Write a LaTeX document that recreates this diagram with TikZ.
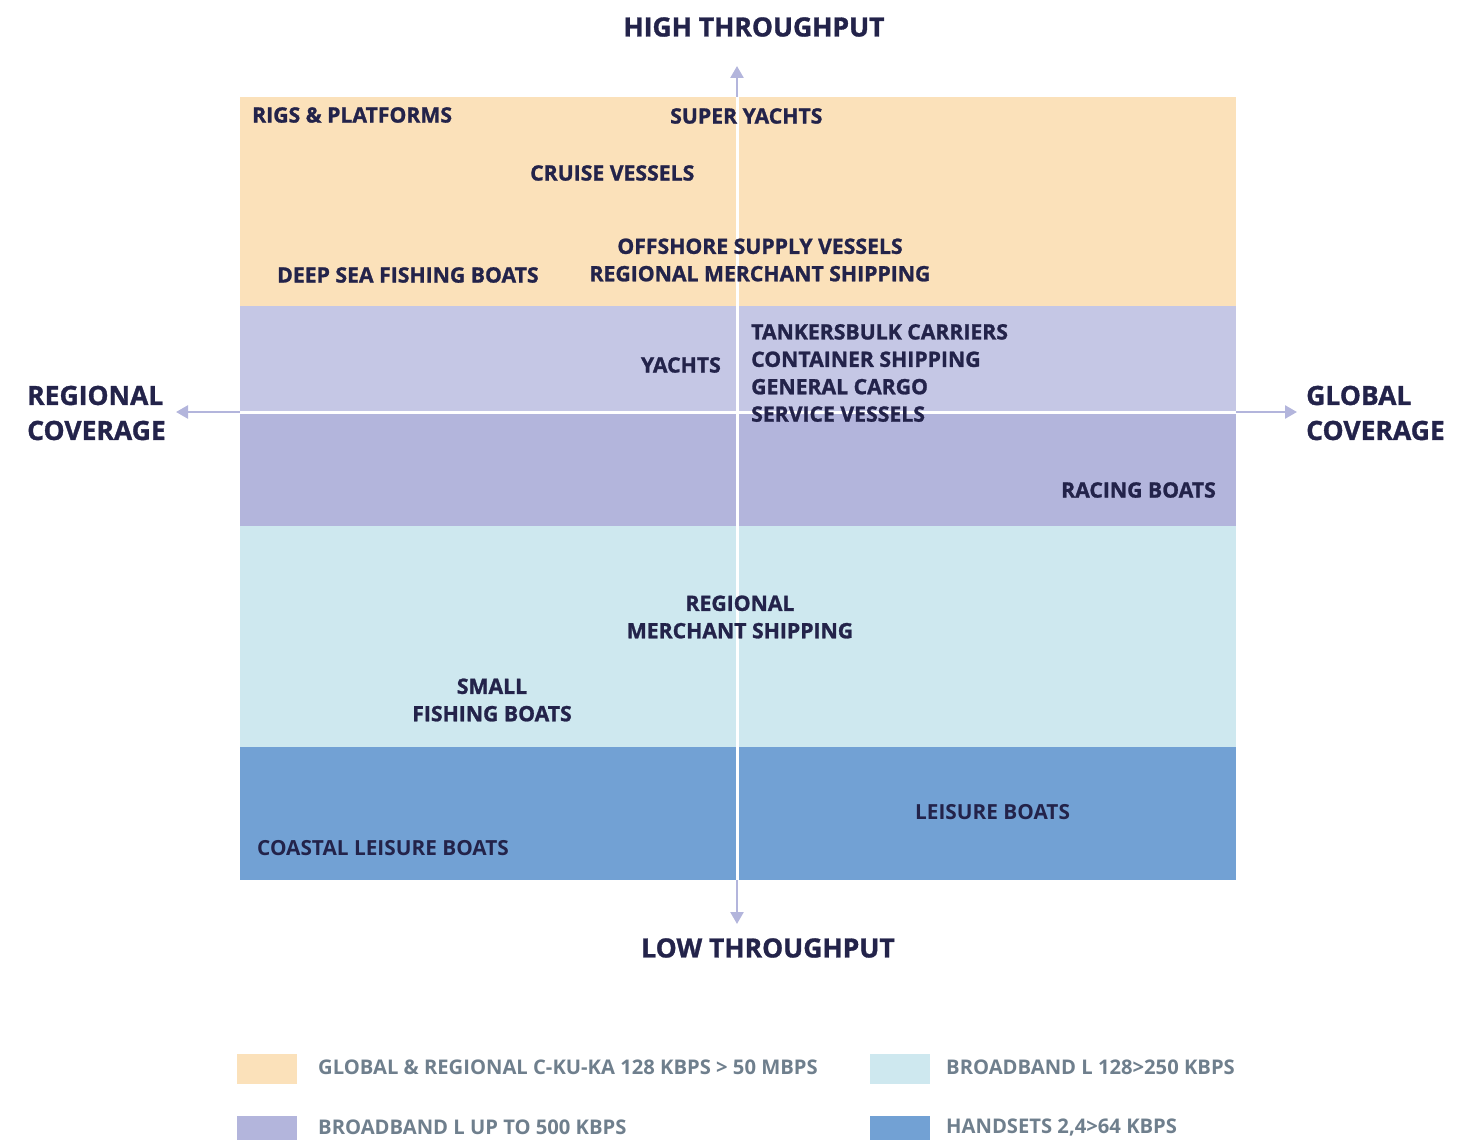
\documentclass[tikz,border=0pt]{standalone}
\usepackage{fontspec}
\setmainfont{Open Sans}[BoldFont={Open Sans Bold}, BoldFeatures={FakeBold=1.2}]
\newfontfamily\semib{Open Sans Bold}
\usetikzlibrary{arrows.meta}
\definecolor{bandA}{HTML}{FBE1BA}
\definecolor{bandB}{HTML}{C5C7E5}
\definecolor{bandC}{HTML}{B3B5DC}
\definecolor{bandD}{HTML}{CEE8EF}
\definecolor{bandE}{HTML}{72A1D4}
\definecolor{ink}{HTML}{23234A}
\definecolor{gray}{HTML}{6F7F8D}
\definecolor{axis}{HTML}{B3B5DC}
\tikzset{
  lbl/.style={font=\bfseries\fontsize{21.2}{27.4}\selectfont, text=ink, inner sep=0pt, align=left},
  lblc/.style={lbl, align=center},
  semi/.style={font=\semib\fontsize{20.8}{27}\selectfont, text=ink, inner sep=0pt},
  title/.style={font=\bfseries\fontsize{26.5}{35}\selectfont, text=ink, inner sep=0pt, align=left},
  leg/.style={font=\semib\fontsize{20.2}{24}\selectfont, text=gray, inner sep=0pt, anchor=west},
  axisline/.style={draw=axis, line width=2.5pt, -{Triangle[length=12pt,width=13pt]}},
  whiteline/.style={draw=white, line width=3pt}
}
\begin{document}
\begin{tikzpicture}[x=1pt,y=-1pt]
\useasboundingbox (0,0) rectangle (1475,1140);
% bands
\fill[bandA] (240,97) rectangle (1236,306);
\fill[bandB] (240,306) rectangle (1236,412);
\fill[bandC] (240,412) rectangle (1236,526);
\fill[bandD] (240,526) rectangle (1236,747);
\fill[bandE] (240,747) rectangle (1236,880);
% axis coordinates
\coordinate (boxT) at (737,97);
\coordinate (boxB) at (737,880);
\coordinate (boxL) at (240,412);
\coordinate (boxR) at (1236,412);
\coordinate (tipT) at (737,66);
\coordinate (tipB) at (737,924);
\coordinate (tipL) at (176,412);
\coordinate (tipR) at (1297,412);
\draw[axisline] (boxT) -- (tipT);
\draw[axisline] (boxB) -- (tipB);
\draw[axisline] (boxL) -- (tipL);
\draw[axisline] (boxR) -- (tipR);
\draw[whiteline] (boxT) -- (boxB);
\draw[whiteline] (boxL) -- (boxR);
% labels
\node[lbl, anchor=west] (rigs) at (252,115) {RIGS \& PLATFORMS};
\node[lbl, anchor=west] (super) at (670,116) {SUPER YACHTS};
\node[lbl, anchor=west] (cruise) at (530,173) {CRUISE VESSELS};
\node[lblc] (offshore) at (760,260) {OFFSHORE SUPPLY VESSELS\\REGIONAL MERCHANT SHIPPING};
\node[lbl, anchor=west] (deep) at (277,275) {DEEP SEA FISHING BOATS};
\node[lbl, anchor=east] (yachts) at (721,365) {YACHTS};
\node[lbl, anchor=west, align=left] (tankers) at (751,373) {TANKERSBULK CARRIERS\\CONTAINER SHIPPING\\GENERAL CARGO\\SERVICE VESSELS};
\node[lbl, anchor=east] (racing) at (1216,490) {RACING BOATS};
\node[lblc] (regmer) at (740,617) {REGIONAL\\MERCHANT SHIPPING};
\node[lblc] (small) at (492,700) {SMALL\\FISHING BOATS};
\node[semi, anchor=west] (leisure) at (915,812) {LEISURE BOATS};
\node[semi, anchor=west] (coastal) at (257,848) {COASTAL LEISURE BOATS};
% titles
\node[title] (high) at (754,27) {HIGH THROUGHPUT};
\node[title] (low) at (768,948) {LOW THROUGHPUT};
\node[title, anchor=west] (regcov) at (27,413) {REGIONAL\\COVERAGE};
\node[title, anchor=west] (globcov) at (1306,413) {GLOBAL\\COVERAGE};
% legend
\fill[bandA] (237,1054) rectangle (297,1084);
\fill[bandC] (237,1116) rectangle (297,1146);
\fill[bandD] (870,1054) rectangle (930,1084);
\fill[bandE] (870,1116) rectangle (930,1146);
\node[leg] (legA) at (318,1067) {GLOBAL \& REGIONAL C-KU-KA 128 KBPS > 50 MBPS};
\node[leg] (legC) at (318,1127) {BROADBAND L UP TO 500 KBPS};
\node[leg] (legD) at (946,1067) {BROADBAND L 128>250 KBPS};
\node[leg] (legE) at (946,1127) {HANDSETS 2,4>64 KBPS};
\end{tikzpicture}
\end{document}
